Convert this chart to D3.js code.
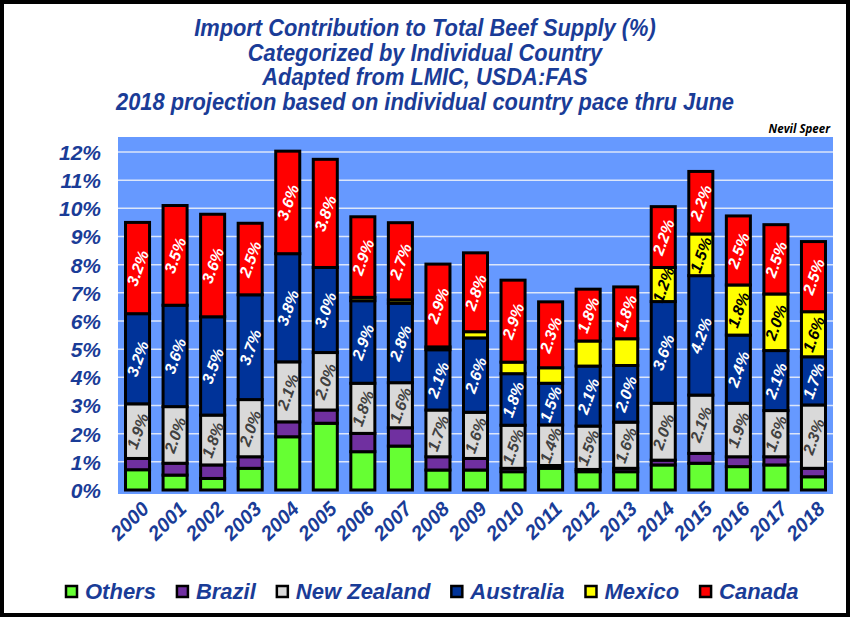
<!DOCTYPE html>
<html>
<head>
<meta charset="utf-8">
<script src="https://cdn.jsdelivr.net/npm/d3@7"></script>
<style>
  html, body { margin: 0; padding: 0; background: #fff; }
  svg { display: block; }
</style>
</head>
<body>
<svg id="chart" width="850" height="617"></svg>
<script>
// ---- data ----
const years = ["2000","2001","2002","2003","2004","2005","2006","2007","2008","2009","2010","2011","2012","2013","2014","2015","2016","2017","2018"];
const seriesNames = ["Others","Brazil","New Zealand","Australia","Mexico","Canada"];
const others     = [0.72,0.53,0.41,0.77,1.89,2.37,1.36,1.56,0.71,0.71,0.65,0.77,0.65,0.65,0.89,0.95,0.83,0.89,0.47];
const brazil     = [0.40,0.42,0.48,0.41,0.53,0.47,0.65,0.65,0.47,0.41,0.12,0.10,0.08,0.12,0.17,0.35,0.35,0.29,0.30];
const newZealand = [1.94,2.01,1.77,2.03,2.13,2.04,1.78,1.60,1.66,1.64,1.53,1.44,1.54,1.64,2.02,2.07,1.90,1.64,2.25];
const australia  = [3.20,3.60,3.49,3.72,3.84,3.02,2.93,2.82,2.14,2.64,1.83,1.48,2.13,2.01,3.61,4.24,2.42,2.13,1.71];
const mexico     = [0,0,0,0,0,0,0.12,0.12,0.10,0.22,0.41,0.55,0.89,0.95,1.21,1.48,1.78,2.01,1.60];
const canada     = [3.24,3.54,3.64,2.54,3.64,3.84,2.86,2.74,2.94,2.80,2.91,2.34,1.84,1.84,2.16,2.22,2.45,2.46,2.49];
const yTicks = [0,1,2,3,4,5,6,7,8,9,10,11,12];
const titleLines = [
  "Import Contribution to Total Beef Supply (%)",
  "Categorized by Individual Country",
  "Adapted from LMIC, USDA:FAS",
  "2018 projection based on individual country pace thru June"
];

// ---- styles ----
const colors = {"Others":"#66ff33","Brazil":"#7030a0","New Zealand":"#d9d9d9","Australia":"#003399","Mexico":"#ffff00","Canada":"#ff0000"};
const labelColors = {"New Zealand":"#404040","Australia":"#ffffff","Mexico":"#000000","Canada":"#ffffff"};
const navy = "#1a3c97";
const FONT = "'Liberation Sans', Arial, sans-serif";

const rows = years.map((y,i) => ({year:y, "Others":others[i], "Brazil":brazil[i], "New Zealand":newZealand[i], "Australia":australia[i], "Mexico":mexico[i], "Canada":canada[i]}));
const stacked = d3.stack().keys(seriesNames)(rows);

const svg = d3.select("#chart");
svg.append("rect").attr("x",2).attr("y",2).attr("width",846).attr("height",613)
  .attr("fill","#fff").attr("stroke","#000").attr("stroke-width",4);

const plot = {left:118, right:833, top:137, bottom:494};
const x = d3.scaleBand().domain(years).range([plot.left, plot.right]).paddingInner(0.36).paddingOuter(0.2);
const y = d3.scaleLinear().domain([0,12]).range([490,152]);

// plot background
svg.append("rect").attr("x",plot.left).attr("y",plot.top)
  .attr("width",plot.right-plot.left).attr("height",plot.bottom-plot.top).attr("fill","#6699ff");

// gridlines
svg.append("g").selectAll("line").data(yTicks.filter(d=>d>0)).join("line")
  .attr("x1",plot.left).attr("x2",plot.right)
  .attr("y1",d=>y(d)).attr("y2",d=>y(d))
  .attr("stroke","#dce6fa").attr("stroke-width",1.5);

// y axis
const yAxis = d3.axisLeft(y).tickValues(yTicks).tickFormat(d=>d+"%").tickSize(0).tickPadding(0);
const yg = svg.append("g").attr("transform","translate(101,0)").call(yAxis);
yg.select(".domain").remove();
yg.selectAll("text").attr("font-family",FONT).attr("font-size",21).attr("font-weight","bold")
  .attr("font-style","italic").attr("fill",navy).attr("dy","0.35em");

// x axis
const xAxis = d3.axisBottom(x).tickSize(0).tickPadding(0);
const xg = svg.append("g").attr("transform","translate(0,503)").call(xAxis);
xg.select(".domain").remove();
xg.selectAll("text").attr("font-family",FONT).attr("font-size",20).attr("font-weight","bold")
  .attr("font-style","italic").attr("fill",navy)
  .attr("text-anchor","end").attr("dy","0.7em").attr("x",4).attr("y",0)
  .attr("transform","rotate(-45)");

// bars
const g = svg.append("g");
stacked.forEach(layer => {
  g.append("g").selectAll("rect").data(layer.filter(d=>d[1]-d[0]>0)).join("rect")
    .attr("x",d=>x(d.data.year)).attr("width",x.bandwidth())
    .attr("y",d=>y(d[1])).attr("height",d=>y(d[0])-y(d[1]))
    .attr("fill",colors[layer.key]).attr("stroke","#000").attr("stroke-width",3);
});

// labels
const lg = svg.append("g");
stacked.forEach(layer => {
  if (!(layer.key in labelColors)) return;
  lg.append("g").selectAll("text").data(layer.filter(d=>d[1]-d[0]>=1.1)).join("text")
    .attr("transform",d=>`translate(${x(d.data.year)+x.bandwidth()/2},${(y(d[0])+y(d[1]))/2}) rotate(-70)`)
    .attr("text-anchor","middle").attr("dy","0.36em")
    .attr("font-family",FONT).attr("font-size",16).attr("font-weight","bold").attr("font-style","italic")
    .attr("fill",labelColors[layer.key])
    .text(d=>(d[1]-d[0]).toFixed(1)+"%");
});

// titles (condensed look)
svg.append("g").selectAll("text").data(titleLines).join("text")
  .attr("transform",(d,i)=>`translate(425,${36+i*24.5}) scale(0.93,1)`)
  .attr("text-anchor","middle")
  .attr("font-family",FONT)
  .attr("font-size",23.5).attr("font-weight","bold").attr("font-style","italic").attr("fill",navy)
  .text(d=>d);

svg.append("text").attr("x",830).attr("y",133).attr("text-anchor","end")
  .attr("font-family","'Open Sans', sans-serif").attr("font-size",11.5).attr("font-weight","bold")
  .attr("font-style","italic").attr("fill","#000").text("Nevil Speer");

// legend
const leg = svg.append("g");
let lx = 66;
seriesNames.forEach(name => {
  leg.append("rect").attr("x",lx).attr("y",586).attr("width",11).attr("height",11)
    .attr("fill",colors[name]).attr("stroke","#000").attr("stroke-width",2.5);
  const t = leg.append("text").attr("x",lx+19).attr("y",599)
    .attr("font-family",FONT).attr("font-size",22).attr("font-weight","bold").attr("font-style","italic")
    .attr("fill",navy).text(name);
  lx += 19 + t.node().getComputedTextLength() + 21;
});
</script>
</body>
</html>
